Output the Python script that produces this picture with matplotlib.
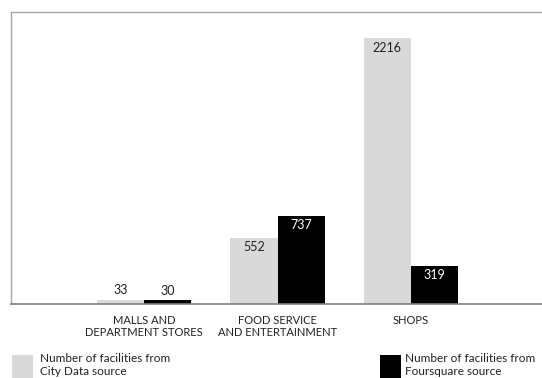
import matplotlib
matplotlib.use("Agg")
import matplotlib.pyplot as plt
from matplotlib.patches import Rectangle
import numpy as np

categories = ["MALLS AND\nDEPARTMENT STORES", "FOOD SERVICE\nAND ENTERTAINMENT", "SHOPS"]
city_data = [33, 552, 2216]
foursquare = [30, 737, 319]
legend_labels = ["Number of facilities from\nCity Data source",
                 "Number of facilities from\nFoursquare source"]

GRAY = "#d9d9d9"
BLACK = "#000000"
FONT = "Lato"

fig = plt.figure(figsize=(5.42, 3.78), dpi=100)
W, H = 542, 378
ax = fig.add_axes([11 / W, (H - 304) / H, 533 / W, 292 / H])

x = np.arange(len(categories))
w = 0.353
b1 = ax.bar(x - w / 2, city_data, w, color=GRAY)
b2 = ax.bar(x + w / 2, foursquare, w, color=BLACK)

ax.set_xlim(-1, 3)
ax.set_ylim(0, 2433)

for bars, vals, inner in ((b1, city_data, "#222222"), (b2, foursquare, "white")):
    for rect, v in zip(bars, vals):
        cx = rect.get_x() + rect.get_width() / 2
        if v > 200:
            ax.annotate(str(v), (cx, v), xytext=(0, -7), textcoords="offset points",
                        ha="center", va="center", fontsize=9, color=inner, family=FONT)
        else:
            ax.annotate(str(v), (cx, v), xytext=(0, 7), textcoords="offset points",
                        ha="center", va="center", fontsize=9, color="#222222", family=FONT)

ax.set_xticks(x)
ax.set_xticklabels(categories, fontsize=8, family=FONT, color="#222222", linespacing=1.15)
ax.tick_params(axis="x", length=0, pad=8)
ax.set_yticks([])

for side in ("left", "top"):
    ax.spines[side].set_color("#a6a6a6")
    ax.spines[side].set_linewidth(1.0)
ax.spines["bottom"].set_color("#7f7f7f")
ax.spines["bottom"].set_linewidth(1.2)
ax.spines["right"].set_visible(False)

# legend swatches and captions along the bottom edge
for (lx, col), label, tx in zip([(12, GRAY), (380, BLACK)], legend_labels, [40, 405]):
    fig.patches.append(Rectangle((lx / W, 0), 21 / W, 23 / H, transform=fig.transFigure,
                                 facecolor=col, edgecolor="none"))
    fig.text(tx / W, (H - 365) / H, label, fontsize=8.5, family=FONT, color="#222222",
             va="center", ha="left", linespacing=1.2)

fig.savefig("out.png", dpi=100)
